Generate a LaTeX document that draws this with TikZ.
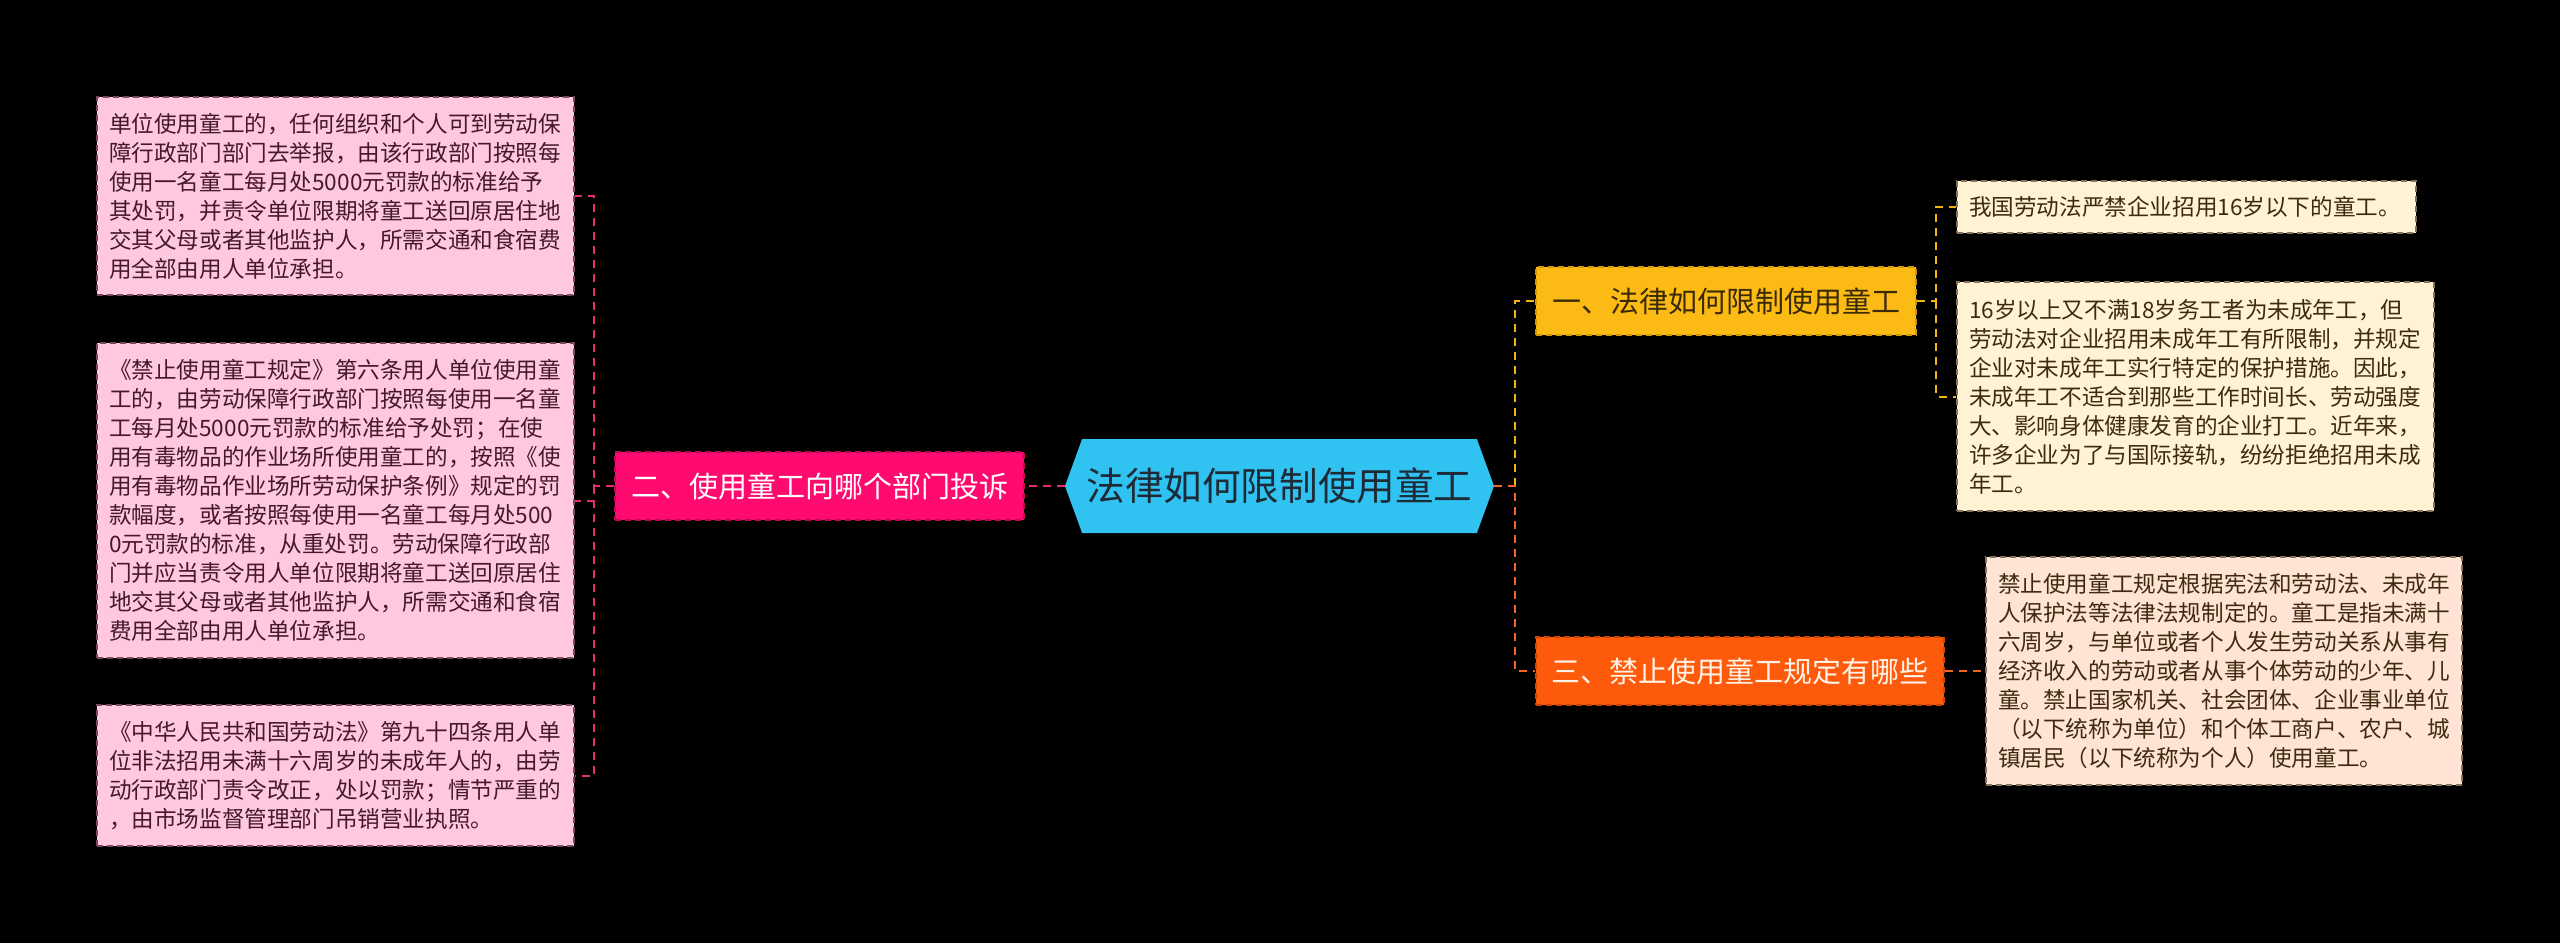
\documentclass[tikz,border=0pt]{standalone}
\usepackage{fontspec}
\setmainfont{Noto Sans CJK SC}
\usetikzlibrary{shapes.symbols}

\definecolor{rootBlue}{HTML}{30C3F2}
\definecolor{rootText}{HTML}{1E2B36}
\definecolor{twoFill}{HTML}{FF0A6E}
\definecolor{twoLine}{HTML}{C2075A}
\definecolor{oneFill}{HTML}{FCBB14}
\definecolor{oneLine}{HTML}{D29A00}
\definecolor{oneText}{HTML}{3A2A05}
\definecolor{threeFill}{HTML}{FE5A0B}
\definecolor{threeLine}{HTML}{CC4400}
\definecolor{threeText}{HTML}{FFF2E6}
\definecolor{pinkLeaf}{HTML}{FFC8E0}
\definecolor{pinkLeafLine}{HTML}{7A4A5C}
\definecolor{pinkLeafText}{HTML}{45182A}
\definecolor{creamLeaf}{HTML}{FFF3D4}
\definecolor{peachLeaf}{HTML}{FFE3D5}
\definecolor{warmLeafLine}{HTML}{857258}
\definecolor{warmLeafText}{HTML}{3D2B10}
\definecolor{pinkLink}{HTML}{E62E6E}
\definecolor{yellowLink}{HTML}{F2B50F}
\definecolor{orangeLink}{HTML}{F26522}

\begin{document}
\begin{tikzpicture}[x=0.5pt,y=-0.5pt]
  \tikzstyle{myRoot}=[signal, signal to=west and east, signal pointer angle=140,
    fill=rootBlue, text=rootText, inner sep=0pt,
    minimum width=214.5pt, minimum height=47pt,
    font=\fontsize{19.3}{24}\selectfont]
  \tikzstyle{myBranch}=[rectangle, draw, line width=0.75pt, dash pattern=on 3pt off 2pt,
    inner sep=0pt, minimum height=34pt, font=\fontsize{14.5}{17}\selectfont]
  \tikzstyle{myLeaf}=[rectangle, draw, line width=0.6pt, dash pattern=on 3pt off 2pt,
    align=left, inner xsep=6pt, inner ysep=0pt, font=\fontsize{11.3}{14.5}\selectfont]
  \tikzstyle{myLink}=[line width=1pt, dash pattern=on 4pt off 3pt]

  \fill[black] (0,0) rectangle (2560,943);
  \useasboundingbox (0,0) rectangle (2560,943);

  % centre and main branches
  \node[myRoot] (root) at (1279.5,486) {法律如何限制使用童工};
  \node[myBranch, fill=twoFill, draw=twoLine, text=white, minimum width=204.5pt] (two) at (819.5,486) {二、使用童工向哪个部门投诉};
  \node[myBranch, fill=oneFill, draw=oneLine, text=oneText, minimum width=190pt] (one) at (1726,301) {一、法律如何限制使用童工};
  \node[myBranch, fill=threeFill, draw=threeLine, text=threeText, minimum width=204pt] (three) at (1740,671) {三、禁止使用童工规定有哪些};

  % left leaves
  \node[myLeaf, fill=pinkLeaf, draw=pinkLeafLine, text=pinkLeafText, text width=226.5pt, minimum height=99pt] (l1) at (335.5,196) {单位使用童工的，任何组织和个人可到劳动保\\障行政部门部门去举报，由该行政部门按照每\\使用一名童工每月处5000元罚款的标准给予\\其处罚，并责令单位限期将童工送回原居住地\\交其父母或者其他监护人，所需交通和食宿费\\用全部由用人单位承担。};
  \node[myLeaf, fill=pinkLeaf, draw=pinkLeafLine, text=pinkLeafText, text width=226.5pt, minimum height=157.5pt] (l2) at (335.5,500.5) {《禁止使用童工规定》第六条用人单位使用童\\工的，由劳动保障行政部门按照每使用一名童\\工每月处5000元罚款的标准给予处罚；在使\\用有毒物品的作业场所使用童工的，按照《使\\用有毒物品作业场所劳动保护条例》规定的罚\\款幅度，或者按照每使用一名童工每月处500\\0元罚款的标准，从重处罚。劳动保障行政部\\门并应当责令用人单位限期将童工送回原居住\\地交其父母或者其他监护人，所需交通和食宿\\费用全部由用人单位承担。};
  \node[myLeaf, fill=pinkLeaf, draw=pinkLeafLine, text=pinkLeafText, text width=226.5pt, minimum height=70.5pt] (l3) at (335.5,775.5) {《中华人民共和国劳动法》第九十四条用人单\\位非法招用未满十六周岁的未成年人的，由劳\\动行政部门责令改正，处以罚款；情节严重的\\，由市场监督管理部门吊销营业执照。};

  % right leaves
  \node[myLeaf, fill=creamLeaf, draw=warmLeafLine, text=warmLeafText, text width=217.5pt, minimum height=26pt] (r1) at (2186.5,207) {我国劳动法严禁企业招用16岁以下的童工。};
  \node[myLeaf, fill=creamLeaf, draw=warmLeafLine, text=warmLeafText, text width=226.5pt, minimum height=114.5pt] (r2) at (2195.5,396.5) {16岁以上又不满18岁务工者为未成年工，但\\劳动法对企业招用未成年工有所限制，并规定\\企业对未成年工实行特定的保护措施。因此，\\未成年工不适合到那些工作时间长、劳动强度\\大、影响身体健康发育的企业打工。近年来，\\许多企业为了与国际接轨，纷纷拒绝招用未成\\年工。};
  \node[myLeaf, fill=peachLeaf, draw=warmLeafLine, text=warmLeafText, text width=226pt, minimum height=114pt] (r3) at (2224,671) {禁止使用童工规定根据宪法和劳动法、未成年\\人保护法等法律法规制定的。童工是指未满十\\六周岁，与单位或者个人发生劳动关系从事有\\经济收入的劳动或者从事个体劳动的少年、儿\\童。禁止国家机关、社会团体、企业事业单位\\（以下统称为单位）和个体工商户、农户、城\\镇居民（以下统称为个人）使用童工。};

  % connectors
  \coordinate (lj) at (594,486);
  \coordinate (cj) at (1515,486);
  \coordinate (rj) at (1936,301);
  \draw[myLink, draw=pinkLink] (root.west) -- (two.east);
  \draw[myLink, draw=pinkLink] (two.west) -- (lj) |- (l1.east);
  \draw[myLink, draw=pinkLink] (lj) |- (l2.east);
  \draw[myLink, draw=pinkLink] (lj) |- (l3.east);
  \draw[myLink, draw=yellowLink] (cj) |- (one.west);
  \draw[myLink, draw=orangeLink] (root.east) -- (cj) |- (three.west);
  \draw[myLink, draw=yellowLink] (one.east) -- (rj) |- (r1.west);
  \draw[myLink, draw=yellowLink] (rj) |- (r2.west);
  \draw[myLink, draw=orangeLink] (three.east) -- (r3.west);
\end{tikzpicture}
\end{document}
